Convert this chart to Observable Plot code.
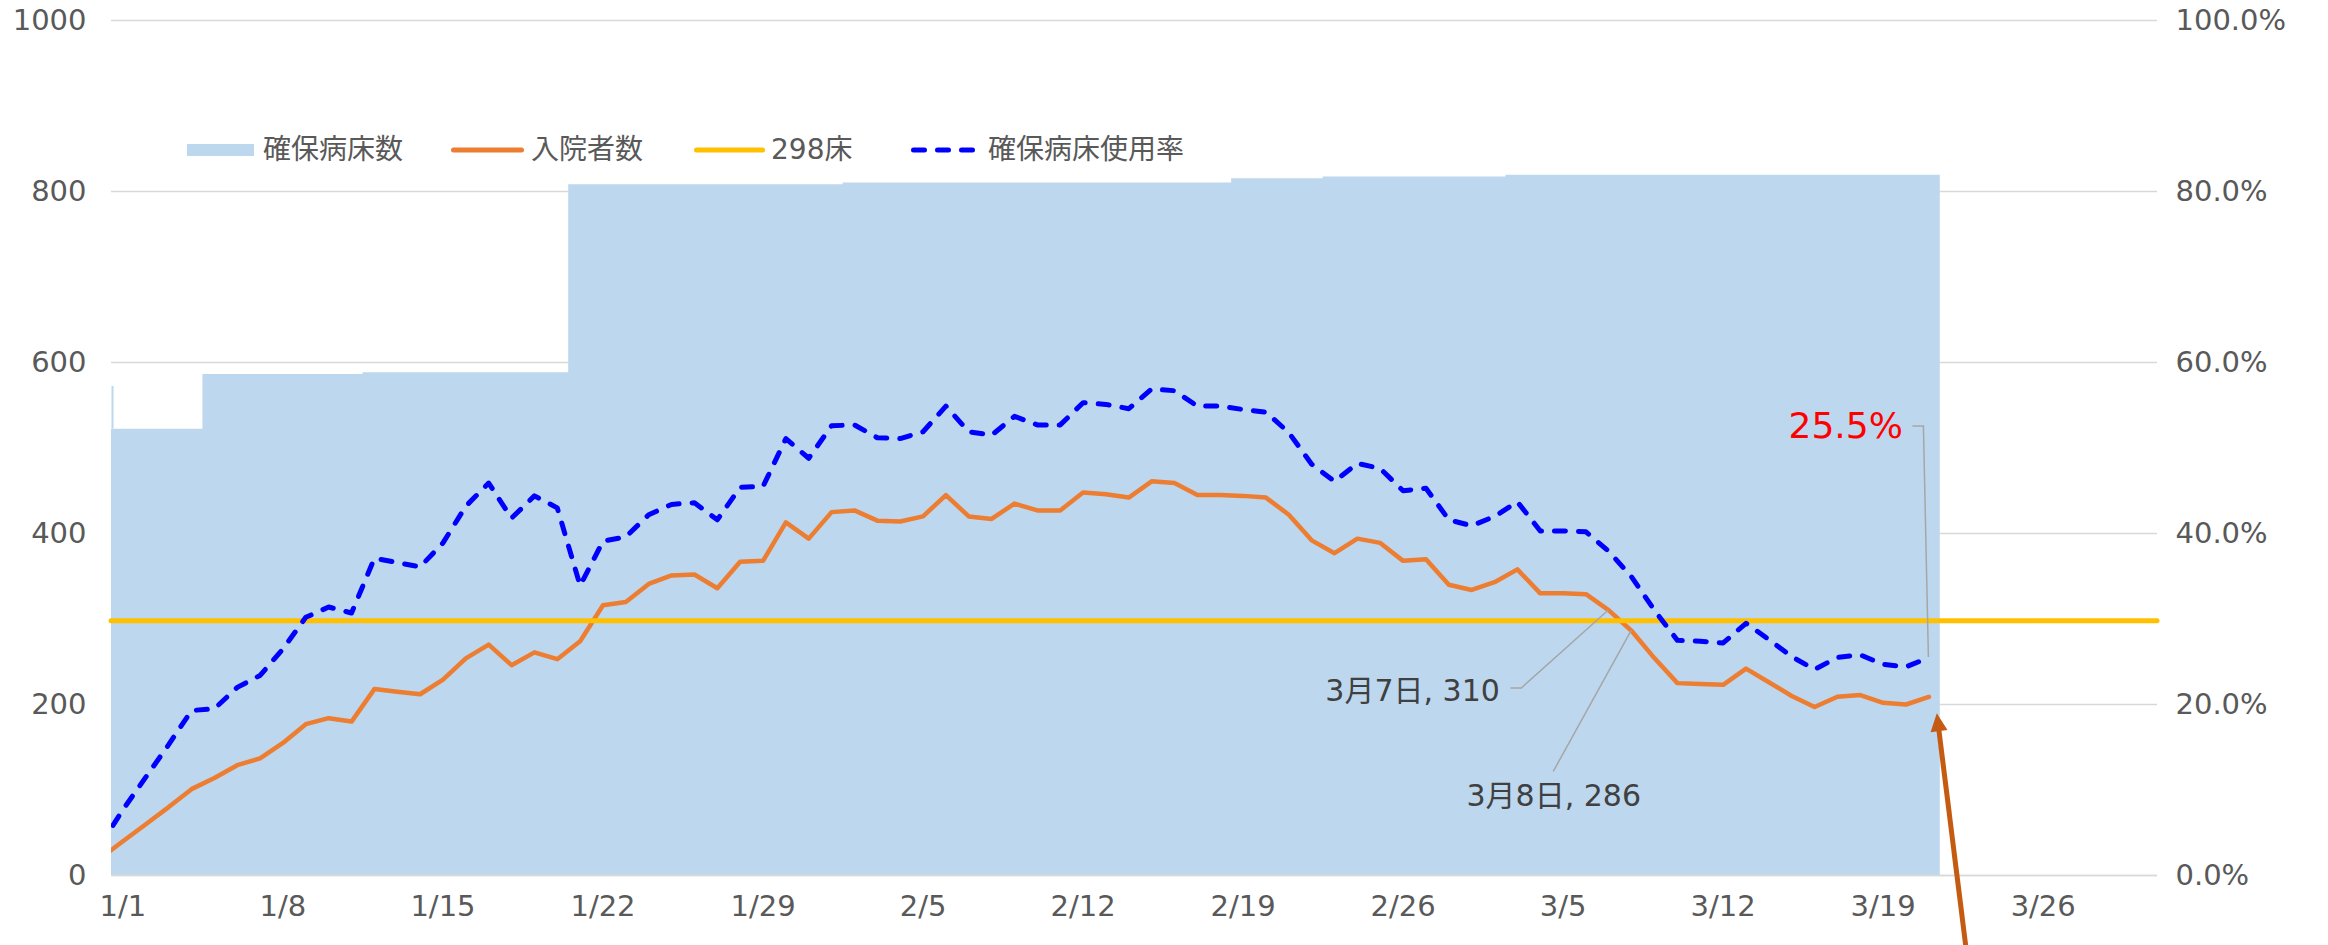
<!DOCTYPE html>
<html><head><meta charset="utf-8">
<script src="https://cdn.jsdelivr.net/npm/d3@7"></script>
<script src="https://cdn.jsdelivr.net/npm/@observablehq/plot@0.6"></script>
<style>
body{margin:0;background:#fff;}
#wrap{position:relative;width:2328px;height:945px;font-family:'DejaVu Sans','Noto Sans CJK JP',sans-serif;}
.lgt{position:absolute;top:150px;transform:translateY(-50%);line-height:1;font-size:28px;color:#595959;white-space:nowrap;}
.lgs{position:absolute;}
</style></head><body><div id="wrap"></div>
<script>
// ---- data ----
const dayLabels = ["12/31",
"1/1","1/2","1/3","1/4","1/5","1/6","1/7","1/8","1/9","1/10","1/11","1/12","1/13","1/14","1/15","1/16","1/17","1/18","1/19","1/20","1/21","1/22","1/23","1/24","1/25","1/26","1/27","1/28","1/29","1/30","1/31",
"2/1","2/2","2/3","2/4","2/5","2/6","2/7","2/8","2/9","2/10","2/11","2/12","2/13","2/14","2/15","2/16","2/17","2/18","2/19","2/20","2/21","2/22","2/23","2/24","2/25","2/26","2/27","2/28",
"3/1","3/2","3/3","3/4","3/5","3/6","3/7","3/8","3/9","3/10","3/11","3/12","3/13","3/14","3/15","3/16","3/17","3/18","3/19","3/20","3/21"];
// 確保病床数
const securedBeds = [572,
522,522,522,522,586,586,586,586,586,586,586,588,588,588,588,588,588,588,588,588,
808,808,808,808,808,808,808,808,808,808,808,
808,810,810,810,810,810,810,810,810,810,810,810,810,810,810,810,810,810,815,815,815,815,817,817,817,817,817,817,
817,817,819,819,819,819,819,819,819,819,819,819,819,819,819,819,819,819,819,819,819];
// 入院者数
const inpatients = [20,
40,60,80,101,114,129,137,155,177,184,180,218,215,212,229,254,270,246,261,253,
274,316,320,341,351,352,336,367,368,413,394,
425,427,415,414,420,445,420,417,435,427,427,448,446,442,461,459,445,445,444,442,422,392,377,394,389,368,370,
340,334,343,358,330,330,329,310,286,254,225,224,223,242,226,210,197,209,211,202,200,209];
// 確保病床使用率 (%)
const occupancyPct = [3.5,
7.7,11.5,15.3,19.3,19.5,22.0,23.4,26.5,30.2,31.4,30.7,37.1,36.6,36.1,38.9,43.2,45.9,41.8,44.4,43.0,
33.9,39.1,39.6,42.2,43.4,43.6,41.6,45.4,45.5,51.1,48.8,
52.6,52.7,51.2,51.1,51.9,54.9,51.9,51.5,53.7,52.7,52.7,55.3,55.1,54.6,56.9,56.7,54.9,54.9,54.5,54.2,51.8,48.1,46.1,48.2,47.6,45.0,45.3,
41.6,40.9,42.0,43.7,40.3,40.3,40.2,37.9,34.9,31.0,27.5,27.4,27.2,29.5,27.6,25.6,24.1,25.5,25.8,24.7,24.4,25.5];
const thresholdBeds = 298;            // 298床
const xTickLabels = ["1/1","1/8","1/15","1/22","1/29","2/5","2/12","2/19","2/26","3/5","3/12","3/19","3/26"];
const xRange = ["1/1","3/31"];
const yTicks = [0,200,400,600,800,1000];
const legendLabels = ["確保病床数","入院者数","298床","確保病床使用率"];
const callouts = [
  {day:"3/7", value:310, text:"3月7日, 310"},
  {day:"3/8", value:286, text:"3月8日, 286"}
];
const rateCallout = {day:"3/21", pct:25.5, text:"25.5%"};

// ---- helpers ----
const DAY = 86400000, HALF = DAY/2;
function toDate(s){const [m,d]=s.split("/").map(Number);return new Date(Date.UTC(m===12?2020:2021,m-1,d));}
const rows = dayLabels.map((s,i)=>({date:toDate(s), beds:securedBeds[i], inp:inpatients[i], pct:occupancyPct[i]}));
const areaPts = rows.map(r=>({x:new Date(+r.date-HALF), y:r.beds}));
areaPts.push({x:new Date(+rows[rows.length-1].date+HALF), y:rows[rows.length-1].beds});
// edge of the 12/31 column, visible at the frame's left border
const edgeSliver = [{x:new Date(+rows[0].date+HALF), y1:rows[1].beds, y2:rows[0].beds}];
const fmtMD = d=>`${d.getUTCMonth()+1}/${d.getUTCDate()}`;
const FONT = "'DejaVu Sans','Noto Sans CJK JP',sans-serif";
const GRAY = "#595959";

const plot = Plot.plot({
  width:2328, height:945,
  marginLeft:111, marginRight:171, marginTop:20, marginBottom:70,
  style:{background:"white", fontFamily:FONT, fontSize:"29px", color:GRAY, overflow:"visible"},
  x:{type:"utc", domain:[new Date(+toDate(xRange[0])-HALF), toDate(xRange[1])]},
  y:{domain:[0,1000]},
  marks:[
    Plot.gridY(yTicks,{stroke:"#d9d9d9", strokeOpacity:1, strokeWidth:1.5}),
    Plot.areaY(areaPts,{x:"x", y:"y", curve:"step-after", fill:"#bdd7ee", clip:true}),
    Plot.ruleX(edgeSliver,{x:"x", y1:"y1", y2:"y2", stroke:"#bdd7ee", strokeWidth:2, dx:1}),
    Plot.ruleY([0],{stroke:"#d9d9d9", strokeWidth:1.5}),
    Plot.line(rows,{x:"date", y:"inp", stroke:"#ed7d31", strokeWidth:4.5, strokeLinejoin:"round", clip:true}),
    Plot.ruleY([thresholdBeds],{stroke:"#ffc000", strokeWidth:5, strokeLinecap:"round"}),
    Plot.line(rows,{x:"date", y:d=>d.pct*10, stroke:"#0000ff", strokeWidth:5, strokeDasharray:"11,13", strokeLinecap:"round", strokeLinejoin:"round", clip:true}),
    Plot.axisY(yTicks,{anchor:"left", tickSize:0, tickPadding:25, fontSize:29, color:GRAY, label:null, tickFormat:d=>String(d)}),
    Plot.axisY(yTicks,{anchor:"right", tickSize:0, tickPadding:18, fontSize:29, color:GRAY, label:null, tickFormat:d=>(d/10).toFixed(1)+"%"}),
    Plot.axisX(xTickLabels.map(toDate),{anchor:"bottom", tickSize:0, tickPadding:20, fontSize:29, color:GRAY, label:null, tickFormat:fmtMD}),
    Plot.text([callouts[0]],{x:d=>toDate(d.day), y:"value", text:"text", dx:-109, dy:81, textAnchor:"end", fill:"#404040", fontSize:30}),
    Plot.text([callouts[1]],{x:d=>toDate(d.day), y:"value", text:"text", dx:-78, dy:165, textAnchor:"middle", fill:"#404040", fontSize:30}),
    Plot.text([rateCallout],{x:d=>toDate(d.day), y:d=>d.pct*10, text:"text", dx:-26, dy:-231, textAnchor:"end", fill:"#ff0000", fontSize:36})
  ]
});
document.getElementById("wrap").appendChild(plot);

// ---- leader lines & arrow positioned through the plot's scales ----
const sx = plot.scale("x"), sy = plot.scale("y");
const P = (day,v)=>[sx.apply(toDate(day)), sy.apply(v)];
const svg = d3.select(plot);
const g = svg.append("g");
const line = d3.line();
const p1 = P(callouts[0].day, callouts[0].value);
const p2 = P(callouts[1].day, callouts[1].value);
const p3 = P(rateCallout.day, rateCallout.pct*10);
[[[p1[0]-98,p1[1]+78],[p1[0]-87,p1[1]+78],p1],
 [[p2[0]-78,p2[1]+141],p2],
 [[p3[0]-16,p3[1]-231],[p3[0]-5,p3[1]-231],p3]].forEach(pts=>{
  g.append("path").attr("d",line(pts)).attr("fill","none").attr("stroke","#a6a6a6").attr("stroke-width",1.5);
});
// arrow pointing at the last 入院者数 point
const q = P(dayLabels[dayLabels.length-1], inpatients[inpatients.length-1]);
const tip = [q[0]+8.4, q[1]+17], tail = [q[0]+37.4, q[1]+250];
const len = Math.hypot(tip[0]-tail[0], tip[1]-tail[1]);
const u = [(tip[0]-tail[0])/len, (tip[1]-tail[1])/len], n = [-u[1], u[0]];
const L = 18, W = 8.5;
const base = [tip[0]-u[0]*L, tip[1]-u[1]*L];
g.append("path").attr("d", line([tail,[base[0]+u[0]*2, base[1]+u[1]*2]])).attr("stroke","#c55a11").attr("stroke-width",5).attr("fill","none");
g.append("path").attr("d", line([tip,[base[0]+n[0]*W, base[1]+n[1]*W],[base[0]-n[0]*W, base[1]-n[1]*W]])+"Z").attr("fill","#c55a11");

// ---- legend (inside plot area, upper left) ----
const wrap = document.getElementById("wrap");
function addText(left, txt){const s=document.createElement("span");s.className="lgt";s.style.left=left+"px";s.textContent=txt;wrap.appendChild(s);}
function addSwatch(left, width, inner){const d=document.createElement("div");d.className="lgs";d.style.left=left+"px";d.style.top="140px";d.innerHTML=`<svg width="${width}" height="20" style="display:block">${inner}</svg>`;wrap.appendChild(d);}
addSwatch(187,67,`<rect x="0" y="4" width="67" height="12" fill="#bdd7ee"/>`);
addText(263, legendLabels[0]);
addSwatch(451,73,`<line x1="2.5" y1="10" x2="70.5" y2="10" stroke="#ed7d31" stroke-width="5" stroke-linecap="round"/>`);
addText(531, legendLabels[1]);
addSwatch(694,71,`<line x1="2.5" y1="10" x2="68.5" y2="10" stroke="#ffc000" stroke-width="5" stroke-linecap="round"/>`);
addText(771, legendLabels[2]);
addSwatch(911,67,`<line x1="2.5" y1="10" x2="64.5" y2="10" stroke="#0000ff" stroke-width="5" stroke-dasharray="11,13" stroke-linecap="round"/>`);
addText(988, legendLabels[3]);
</script></body></html>
